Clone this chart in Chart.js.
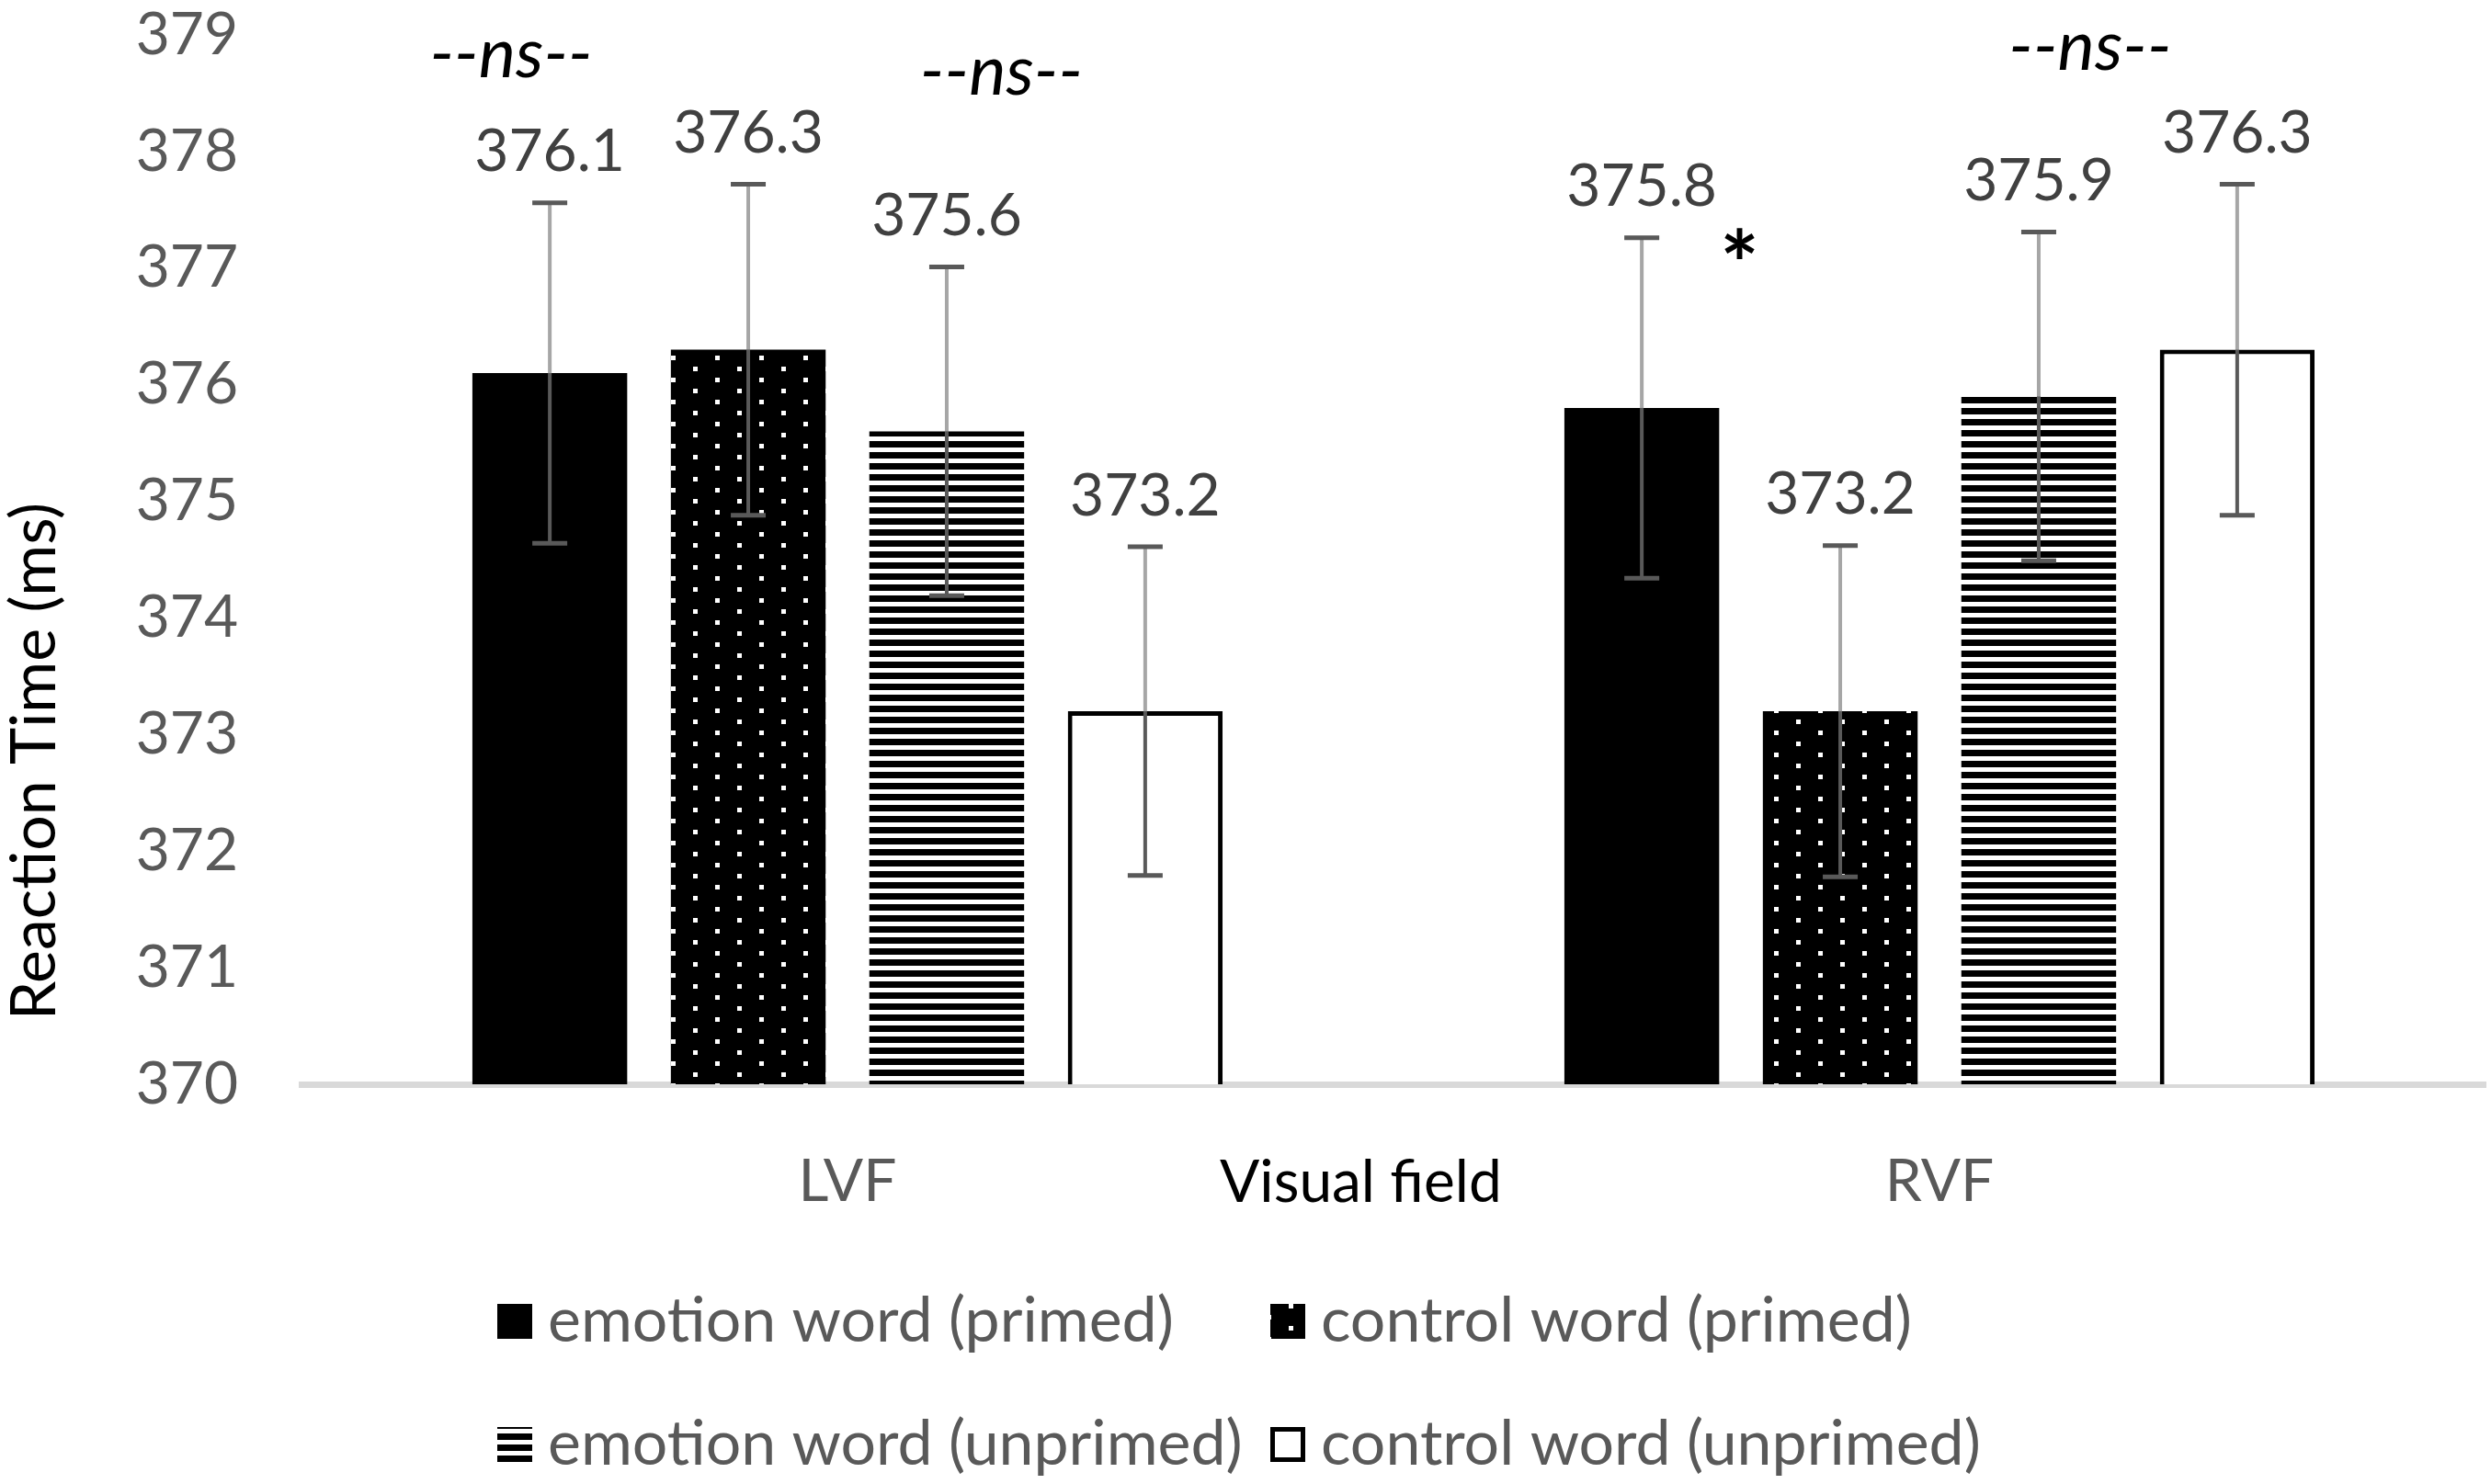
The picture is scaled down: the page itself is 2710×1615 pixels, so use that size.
<!DOCTYPE html>
<html lang="en">
<head>
    <meta charset="UTF-8">
    <title>Reaction Time by Visual Field</title>
    <script src="https://cdn.jsdelivr.net/npm/chart.js"></script>
    <style>
        body {
            margin: 0;
            background-color: white;
            overflow: hidden;
        }

        .chart-box {
            position: relative;
            width: 2710px;
            height: 1615px;
        }
    </style>
</head>
<body>
    <div class="chart-box">
        <canvas id="rtChart"></canvas>
    </div>

    <script>
        // Data
        const categories = ['LVF', 'RVF'];
        const seriesNames = ['emotion word (primed)', 'control word (primed)', 'emotion word (unprimed)', 'control word (unprimed)'];

        const emotionPrimed = [376.1, 375.8];
        const controlPrimed = [376.3, 373.2];
        const emotionUnprimed = [375.6, 375.9];
        const controlUnprimed = [373.2, 376.3];

        // error bar half-lengths (ms)
        const errEmotionPrimed = [1.46, 1.46];
        const errControlPrimed = [1.42, 1.42];
        const errEmotionUnprimed = [1.41, 1.41];
        const errControlUnprimed = [1.41, 1.42];

        const yMin = 370;
        const yMax = 379;
        const yStep = 1;

        const errorSets = [errEmotionPrimed, errControlPrimed, errEmotionUnprimed, errControlUnprimed];

        const FONT = "Lato, 'Open Sans', sans-serif";

        // fill patterns
        function dotPattern() {
            const c = document.createElement('canvas');
            c.width = 48;
            c.height = 24;
            const g = c.getContext('2d');
            g.fillStyle = '#000';
            g.fillRect(0, 0, 48, 24);
            g.fillStyle = '#fff';
            g.fillRect(10, 3, 5, 5);
            g.fillRect(34, 15, 5, 5);
            return g.createPattern(c, 'repeat');
        }

        function stripePattern() {
            const c = document.createElement('canvas');
            c.width = 12;
            c.height = 12;
            const g = c.getContext('2d');
            g.fillStyle = '#fff';
            g.fillRect(0, 0, 12, 12);
            g.fillStyle = '#000';
            g.fillRect(0, 0, 12, 7);
            return g.createPattern(c, 'repeat');
        }

        // error bars + value labels
        const errorBars = {
            id: 'errorBars',
            afterDatasetsDraw(chart) {
                const ctx = chart.ctx;
                const yScale = chart.scales.y;
                chart.data.datasets.forEach((ds, i) => {
                    const meta = chart.getDatasetMeta(i);
                    meta.data.forEach((bar, j) => {
                        const v = ds.data[j];
                        const e = errorSets[i][j];
                        const top = yScale.getPixelForValue(v + e);
                        const bot = yScale.getPixelForValue(v - e);
                        ctx.save();
                        ctx.lineWidth = 4;
                        ctx.strokeStyle = '#a6a6a6';
                        ctx.beginPath();
                        ctx.moveTo(bar.x, top);
                        ctx.lineTo(bar.x, bar.y);
                        ctx.stroke();
                        ctx.strokeStyle = '#595959';
                        ctx.beginPath();
                        ctx.moveTo(bar.x, bar.y);
                        ctx.lineTo(bar.x, bot);
                        ctx.stroke();
                        ctx.lineWidth = 5;
                        ctx.beginPath();
                        ctx.moveTo(bar.x - 19, top);
                        ctx.lineTo(bar.x + 19, top);
                        ctx.moveTo(bar.x - 19, bot);
                        ctx.lineTo(bar.x + 19, bot);
                        ctx.stroke();

                        ctx.fillStyle = '#404040';
                        ctx.font = '64px ' + FONT;
                        ctx.textAlign = 'center';
                        ctx.textBaseline = 'middle';
                        ctx.fillText(v.toFixed(1), bar.x, top - 55);
                        ctx.restore();
                    });
                });
            }
        };

        // significance marks, axis titles, 2x2 legend
        const notes = {
            id: 'notes',
            afterDraw(chart) {
                const ctx = chart.ctx;
                const x = chart.scales.x;
                const y = chart.scales.y;
                const area = chart.chartArea;
                ctx.save();
                ctx.fillStyle = '#000';
                ctx.textAlign = 'center';
                ctx.textBaseline = 'middle';

                ctx.font = 'italic 76px ' + FONT;
                ctx.fillText('--ns--', x.getPixelForValue(-0.308), y.getPixelForValue(378.83));
                ctx.fillText('--ns--', x.getPixelForValue(0.141), y.getPixelForValue(378.68));
                ctx.fillText('--ns--', x.getPixelForValue(1.138), y.getPixelForValue(378.89));

                ctx.font = 'bold 100px ' + FONT;
                ctx.fillText('*', x.getPixelForValue(0.817), y.getPixelForValue(377.0));

                ctx.font = '64px ' + FONT;
                ctx.fillText('Visual field', x.getPixelForValue(0.47), area.bottom + 107);

                ctx.save();
                ctx.translate(38, y.getPixelForValue(372.77));
                ctx.rotate(-Math.PI / 2);
                ctx.font = '68px ' + FONT;
                ctx.fillText('Reaction Time (ms)', 0, 0);
                ctx.restore();

                // legend in two columns, two rows
                const colX = [541, 1382];
                const rowY = [1438, 1572];
                chart.data.datasets.forEach((ds, i) => {
                    const bx = colX[i % 2];
                    const cy = rowY[Math.floor(i / 2)];
                    ctx.fillStyle = ds.backgroundColor;
                    ctx.fillRect(bx, cy - 19, 38, 38);
                    if (ds.borderWidth) {
                        ctx.lineWidth = 5;
                        ctx.strokeStyle = ds.borderColor;
                        ctx.strokeRect(bx + 2.5, cy - 16.5, 33, 33);
                    }
                    ctx.fillStyle = '#595959';
                    ctx.font = '68px ' + FONT;
                    ctx.textAlign = 'left';
                    ctx.fillText(ds.label, bx + 55, cy);
                });
                ctx.restore();
            }
        };

        const rtChart = new Chart(document.getElementById('rtChart'), {
            type: 'bar',
            data: {
                labels: categories,
                datasets: [
                    { label: seriesNames[0], data: emotionPrimed, backgroundColor: '#000', borderWidth: 0 },
                    { label: seriesNames[1], data: controlPrimed, backgroundColor: dotPattern(), borderWidth: 0 },
                    { label: seriesNames[2], data: emotionUnprimed, backgroundColor: stripePattern(), borderWidth: 0 },
                    { label: seriesNames[3], data: controlUnprimed, backgroundColor: '#fff', borderColor: '#000', borderWidth: 5 }
                ]
            },
            options: {
                responsive: true,
                maintainAspectRatio: false,
                animation: false,
                categoryPercentage: 0.727,
                barPercentage: 0.78,
                layout: {
                    padding: { top: 0, right: 6, bottom: 296, left: 0 }
                },
                scales: {
                    x: {
                        grid: { display: false, drawTicks: false },
                        border: { display: true, color: '#d9d9d9', width: 7 },
                        ticks: {
                            color: '#595959',
                            font: { family: FONT, size: 64 },
                            padding: 68
                        },
                        afterFit(scale) {
                            scale.height = 139;
                        }
                    },
                    y: {
                        min: yMin,
                        max: yMax,
                        grid: { display: false, drawTicks: false },
                        border: { display: false },
                        ticks: {
                            stepSize: yStep,
                            color: '#595959',
                            font: { family: FONT, size: 64 },
                            padding: 69
                        },
                        afterFit(scale) {
                            scale.width = 328;
                            scale.paddingTop = 38;
                            scale.paddingBottom = 38;
                        }
                    }
                },
                plugins: {
                    legend: { display: false },
                    tooltip: { enabled: false }
                }
            },
            plugins: [errorBars, notes]
        });
    </script>
</body>
</html>
